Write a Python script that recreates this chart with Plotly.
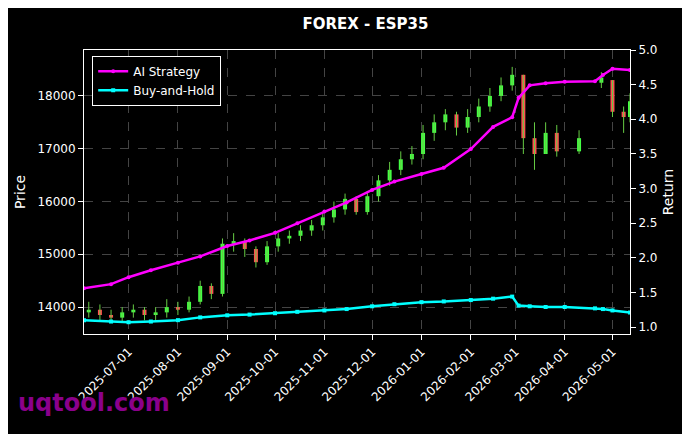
import plotly.graph_objects as go

dates = ["2025-06-06","2025-06-13","2025-06-20","2025-06-27","2025-07-04","2025-07-11","2025-07-18","2025-07-25",
         "2025-08-01","2025-08-08","2025-08-15","2025-08-22","2025-08-29","2025-09-05","2025-09-12","2025-09-19",
         "2025-09-26","2025-10-03","2025-10-10","2025-10-17","2025-10-24","2025-10-31","2025-11-07","2025-11-14",
         "2025-11-21","2025-11-28","2025-12-05","2025-12-12","2025-12-19","2025-12-26","2026-01-02","2026-01-09",
         "2026-01-16","2026-01-23","2026-01-30","2026-02-06","2026-02-13","2026-02-20","2026-02-27","2026-03-06",
         "2026-03-13","2026-03-20","2026-03-27","2026-04-10","2026-04-24","2026-05-01","2026-05-08","2026-05-12"]
opens  = [13900,13950,13850,13800,13900,13950,13850,13900,14000,13950,14100,14400,14250,15200,15250,15100,
          14850,15150,15300,15350,15450,15550,15700,15850,16050,15800,16100,16400,16600,16800,16900,17300,
          17500,17650,17400,17600,17800,18000,18200,18400,17200,16900,17300,16950,18250,18300,17700,17600]
closes = [13950,13850,13800,13900,13950,13850,13900,14000,13950,14100,14400,14250,15200,15250,15100,14850,
          15150,15300,15350,15450,15550,15700,15850,16050,15800,16100,16400,16600,16800,16900,17300,17500,
          17650,17400,17600,17800,18000,18200,18400,17200,16900,17300,16950,17200,18350,17700,17600,17900]
highs  = [14100,14050,13950,14000,14050,14000,14000,14150,14100,14200,14500,14450,15300,15400,15300,15150,
          15250,15400,15450,15550,15650,15800,16000,16150,16100,16200,16500,16750,16950,17050,17450,17650,
          17750,17700,17750,17950,18150,18350,18550,18400,17500,17500,17450,17350,18450,18300,17800,18050]
lows   = [13800,13750,13700,13700,13800,13750,13750,13800,13850,13900,14050,14150,14200,15050,14950,14750,
          14800,15050,15200,15250,15350,15450,15600,15750,15750,15750,16000,16300,16500,16700,16800,17150,
          17350,17250,17300,17500,17700,17900,18100,16900,16600,16900,16850,16900,18150,17600,17300,17500]

ret_dates = ["2025-06-03","2025-06-20","2025-07-01","2025-07-15","2025-08-01","2025-08-15","2025-09-01","2025-09-15",
             "2025-10-01","2025-10-15","2025-11-01","2025-11-15","2025-12-01","2025-12-15","2026-01-01","2026-01-15",
             "2026-02-01","2026-02-15","2026-02-27","2026-03-03","2026-03-10","2026-03-20","2026-04-01","2026-04-20",
             "2026-04-25","2026-05-01","2026-05-12"]
strategy = [1.56,1.62,1.72,1.82,1.93,2.02,2.17,2.25,2.36,2.50,2.67,2.80,2.98,3.10,3.21,3.30,3.57,3.89,4.03,4.31,4.49,
            4.52,4.54,4.55,4.64,4.73,4.71]
buyhold  = [1.10,1.08,1.07,1.08,1.10,1.14,1.17,1.18,1.20,1.22,1.24,1.26,1.30,1.33,1.36,1.37,1.39,1.41,1.44,1.31,1.30,
            1.29,1.29,1.27,1.26,1.24,1.21]

inc = [c >= o for o, c in zip(opens, closes)]
cols = ["#44ff44" if u else "#ff5050" for u in inc]
wx, wy = [], []
for d, h, l in zip(dates, highs, lows):
    wx += [d, d, None]
    wy += [l, h, None]

fig = go.Figure()
fig.add_trace(go.Scatter(x=wx, y=wy, mode="lines", line=dict(color="#66cc44", width=1),
                         showlegend=False, hoverinfo="skip"))
fig.add_trace(go.Bar(x=dates, base=[min(o, c) for o, c in zip(opens, closes)],
                     y=[abs(c - o) for o, c in zip(opens, closes)],
                     width=2.5 * 86400000, marker=dict(color=cols, line=dict(width=0)), showlegend=False))
fig.add_trace(go.Scatter(x=ret_dates, y=strategy, name="AI Strategy", yaxis="y2", mode="lines+markers",
                         line=dict(color="#ff00ff", width=2.5), marker=dict(size=4, symbol="circle")))
fig.add_trace(go.Scatter(x=ret_dates, y=buyhold, name="Buy-and-Hold", yaxis="y2", mode="lines+markers",
                         line=dict(color="#00ffff", width=2.5), marker=dict(size=4, symbol="square")))

grid = dict(showgrid=True, gridcolor="#444", griddash="dash", gridwidth=0.5)
fig.update_layout(
    width=690, height=434, paper_bgcolor="black", plot_bgcolor="black",
    font=dict(family="DejaVu Sans", color="white", size=12),
    title=dict(text="<b>FOREX - ESP35</b>", x=0.518, y=0.975, xanchor="center", font=dict(size=15)),
    margin=dict(l=76, r=68, t=42, b=108, autoexpand=False),
    xaxis=dict(type="date", range=["2025-06-03","2026-05-12"], dtick="M1", tick0="2025-07-01",
               tickformat="%Y-%m-%d", tickangle=-45, showline=True, linecolor="white", mirror=True,
               ticks="outside", tickcolor="white", automargin=False, **grid),
    yaxis=dict(title=dict(text="Price", standoff=8), range=[13490,18870], tickvals=[14000,15000,16000,17000,18000],
               tickformat="d", showline=True, linecolor="white", mirror=True, ticks="outside",
               tickcolor="white", automargin=False, **grid),
    yaxis2=dict(title=dict(text="Return", standoff=6), overlaying="y", side="right", range=[0.9,5.0],
                tickvals=[1.0,1.5,2.0,2.5,3.0,3.5,4.0,4.5,5.0], tickformat=".1f",
                ticks="outside", tickcolor="white", showgrid=False, automargin=False),
    legend=dict(x=0.015, y=0.98, xanchor="left", yanchor="top", bgcolor="black",
                bordercolor="white", borderwidth=1, font=dict(size=12)),
    annotations=[dict(text="<b>uqtool.com</b>", xref="paper", yref="paper", x=-0.125, y=-0.30,
                      xanchor="left", yanchor="bottom", showarrow=False,
                      font=dict(size=24, color="#8b008b"))],
)
fig.write_html("out.html")
